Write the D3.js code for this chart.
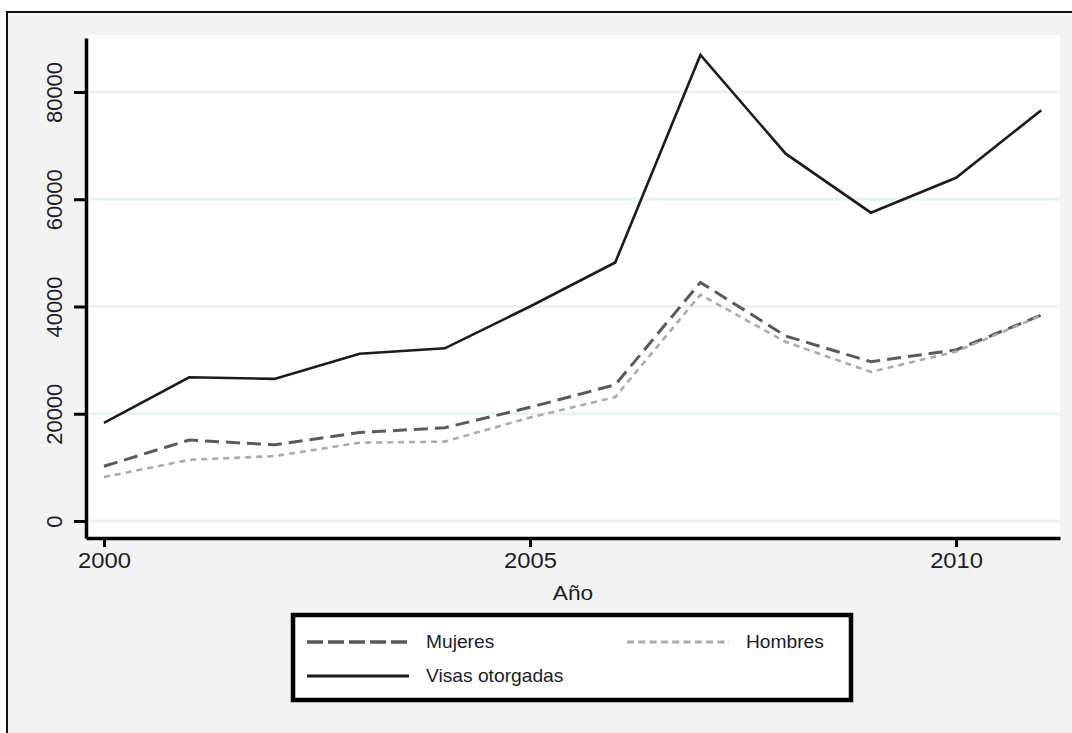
<!DOCTYPE html>
<html>
<head>
<meta charset="utf-8">
<script src="https://cdn.jsdelivr.net/npm/d3@7"></script>
<style>
  html, body { margin: 0; padding: 0; background: #ffffff; }
  svg { display: block; font-family: "Liberation Sans", Arial, sans-serif; }
</style>
</head>
<body>
<svg id="chart" width="1072" height="733"></svg>
<script>
// Visas granted per year, split by sex
const years   = [2000, 2001, 2002, 2003, 2004, 2005, 2006, 2007, 2008, 2009, 2010, 2011];
const visas   = [18300, 26800, 26500, 31200, 32200, 40000, 48200, 86900, 68500, 57500, 64000, 76600];
const mujeres = [10200, 15100, 14200, 16500, 17400, 21200, 25400, 44500, 34500, 29700, 31900, 38400];
const hombres = [8200, 11400, 12100, 14600, 14800, 19300, 23100, 42200, 33400, 27800, 31600, 38300];

const yTicks = [0, 20000, 40000, 60000, 80000];
const xTicks = [2000, 2005, 2010];
const xTitle = "Año";

const series = [
  { name: "Mujeres", values: mujeres, color: "#5a5a5a", width: 3, dash: "14,7" },
  { name: "Hombres", values: hombres, color: "#ababab", width: 2.6, dash: "6,5" },
  { name: "Visas otorgadas", values: visas, color: "#1b1b1b", width: 2.6, dash: null }
];

// horizontal text is set slightly wide, like the Stata export
const WIDE = 1.08;

const svg = d3.select("#chart");

// outer graph frame
svg.append("rect").attr("x", 7).attr("y", 12).attr("width", 1070).attr("height", 730)
  .attr("fill", "#f3f3f3").attr("stroke", "#111").attr("stroke-width", 2);

const plot = { left: 86, right: 1060, top: 35, bottom: 538 };

// white plot region
svg.append("rect").attr("x", plot.left).attr("y", plot.top)
  .attr("width", plot.right - plot.left).attr("height", plot.bottom - plot.top)
  .attr("fill", "#ffffff");

const x = d3.scaleLinear().domain([1999.789, 2011.22]).range([plot.left, plot.right]);
const y = d3.scaleLinear().domain([-3170, 90070]).range([plot.bottom, 38]);

// horizontal grid lines
svg.append("g").selectAll("line").data(yTicks).join("line")
  .attr("x1", plot.left + 4).attr("x2", plot.right)
  .attr("y1", d => y(d)).attr("y2", d => y(d))
  .attr("stroke", "#e9f3ef").attr("stroke-width", 3);

// data lines
const line = d3.line().x((d, i) => x(years[i])).y(d => y(d));
series.forEach(s => {
  svg.append("path").datum(s.values)
    .attr("d", line)
    .attr("fill", "none")
    .attr("stroke", s.color)
    .attr("stroke-width", s.width)
    .attr("stroke-dasharray", s.dash)
    .attr("stroke-linejoin", "miter");
});

// y axis
const yAxis = svg.append("g").attr("transform", `translate(${plot.left},0)`)
  .call(d3.axisLeft(y).tickValues(yTicks).tickSize(12).tickSizeOuter(0).tickFormat(d3.format("d")));
yAxis.select(".domain").attr("stroke", "#000").attr("stroke-width", 3.5);
yAxis.selectAll(".tick line").attr("stroke", "#000").attr("stroke-width", 3);
yAxis.selectAll(".tick text")
  .attr("font-size", 22).attr("fill", "#1c1c2a")
  .attr("text-anchor", "middle")
  .attr("x", 0).attr("y", 0).attr("dy", 0)
  .attr("transform", "translate(-24,0) rotate(-90)");

// x axis
const xAxis = svg.append("g").attr("transform", `translate(0,${plot.bottom})`)
  .call(d3.axisBottom(x).tickValues(xTicks).tickSize(9).tickSizeOuter(0).tickFormat(d3.format("d")));
xAxis.select(".domain").attr("stroke", "#000").attr("stroke-width", 3.5);
xAxis.selectAll(".tick line").attr("stroke", "#000").attr("stroke-width", 3);
xAxis.selectAll(".tick text")
  .attr("font-size", 22).attr("fill", "#1c1c2a")
  .attr("y", 30).attr("dy", 0)
  .attr("transform", `scale(${WIDE},1)`);

svg.append("text")
  .attr("transform", `translate(${(plot.left + plot.right) / 2},600) scale(${WIDE},1)`)
  .attr("text-anchor", "middle").attr("font-size", 21).attr("fill", "#1c1c2a")
  .text(xTitle);

// legend
const lg = svg.append("g");
lg.append("rect").attr("x", 293).attr("y", 615).attr("width", 558).attr("height", 85)
  .attr("fill", "#ffffff").attr("stroke", "#000").attr("stroke-width", 4.5);

const legendPos = [
  { sx: 307, tx: 426, y: 642 },
  { sx: 627, tx: 746, y: 642 },
  { sx: 307, tx: 426, y: 676 }
];
series.forEach((s, i) => {
  const p = legendPos[i];
  lg.append("line").attr("x1", p.sx).attr("x2", p.sx + 102)
    .attr("y1", p.y).attr("y2", p.y)
    .attr("stroke", s.color).attr("stroke-width", s.width + 0.6)
    .attr("stroke-dasharray", s.dash ? (i === 0 ? "16,5" : "7,4.3") : null);
  lg.append("text")
    .attr("transform", `translate(${p.tx},${p.y + 6}) scale(1.05,1)`)
    .attr("font-size", 18.3).attr("fill", "#1c1c2a").text(s.name);
});
</script>
</body>
</html>
